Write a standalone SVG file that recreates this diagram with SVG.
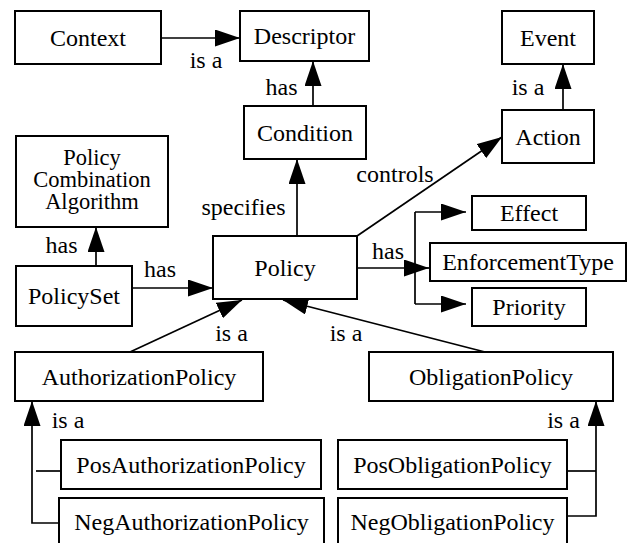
<svg xmlns="http://www.w3.org/2000/svg" width="632" height="543" viewBox="0 0 632 543">
  <style>
    .box { fill: #ffffff; stroke: #000000; stroke-width: 2; }
    .lbl { font-family: "Liberation Serif", serif; font-size: 24px; fill: #000000; text-anchor: middle; }
    .pca { font-size: 22.5px; }
    .edge { fill: none; stroke: #000000; stroke-width: 1.7; }
    .arr { marker-end: url(#head); }
  </style>
  <defs>
    <marker id="head" viewBox="0 0 25 17" refX="25" refY="8.5" markerWidth="25" markerHeight="17" markerUnits="userSpaceOnUse" orient="auto">
      <path d="M0,0 L25,8.5 L0,17 z" fill="#000000"/>
    </marker>
  </defs>
  <rect width="632" height="543" fill="#ffffff"/>

  <!-- connectors with their relation labels -->
  <g id="connectors" font-family="Liberation Serif">
    <line class="edge arr" x1="161" y1="38" x2="240" y2="38"/>
    <text class="lbl" x="206" y="68">is a</text>

    <line class="edge arr" x1="313" y1="106" x2="313" y2="61"/>
    <text class="lbl" x="281.5" y="95">has</text>

    <line class="edge arr" x1="563" y1="110" x2="563" y2="64"/>
    <text class="lbl" x="528" y="95">is a</text>

    <line class="edge arr" x1="357" y1="236" x2="502" y2="137"/>
    <text class="lbl" x="395" y="182">controls</text>

    <line class="edge arr" x1="297" y1="236" x2="297" y2="159"/>
    <text class="lbl" x="243.5" y="215">specifies</text>

    <line class="edge arr" x1="96" y1="266" x2="96" y2="227"/>
    <text class="lbl" x="61.5" y="253">has</text>

    <line class="edge arr" x1="132" y1="288" x2="213" y2="288"/>
    <text class="lbl" x="160" y="277">has</text>

    <!-- Policy attributes: one trunk forking to three targets -->
    <path class="edge" d="M357,268 H415 M415,212 V304"/>
    <line class="edge arr" x1="415" y1="212" x2="466" y2="212"/>
    <line class="edge arr" x1="415" y1="268" x2="429" y2="268"/>
    <line class="edge arr" x1="415" y1="304" x2="466" y2="304"/>
    <text class="lbl" x="388" y="259">has</text>

    <line class="edge arr" x1="130" y1="352" x2="242" y2="300"/>
    <text class="lbl" x="231.5" y="341">is a</text>

    <line class="edge arr" x1="485" y1="352" x2="283" y2="300"/>
    <text class="lbl" x="346" y="341">is a</text>

    <path class="edge arr" d="M59,523 H32 V401"/>
    <line class="edge" x1="36" y1="471" x2="61" y2="471"/>
    <text class="lbl" x="68" y="428">is a</text>

    <path class="edge" d="M567,471 H596"/>
    <path class="edge arr" d="M567,516 H596 V401"/>
    <text class="lbl" x="563.5" y="428">is a</text>
  </g>

  <!-- nodes -->
  <g id="nodes" font-family="Liberation Serif">
  <g id="context">
    <rect class="box" x="15" y="11" width="146" height="53"/>
    <text class="lbl" x="88" y="45.5">Context</text>
  </g>
  <g id="descriptor">
    <rect class="box" x="240" y="11" width="129" height="50"/>
    <text class="lbl" x="304.5" y="44">Descriptor</text>
  </g>
  <g id="event">
    <rect class="box" x="502" y="11" width="92" height="53"/>
    <text class="lbl" x="548" y="45.5">Event</text>
  </g>
  <g id="action">
    <rect class="box" x="502" y="110" width="92" height="53"/>
    <text class="lbl" x="548" y="144.5">Action</text>
  </g>
  <g id="condition">
    <rect class="box" x="244" y="106" width="122" height="53"/>
    <text class="lbl" x="305" y="140.5">Condition</text>
  </g>
  <g id="policy-combination-algorithm">
    <rect class="box" x="16" y="136" width="152" height="91"/>
    <text class="lbl pca" x="92" y="165">Policy</text>
    <text class="lbl pca" x="92" y="187">Combination</text>
    <text class="lbl pca" x="92" y="209">Algorithm</text>
  </g>
  <g id="policyset">
    <rect class="box" x="16" y="266" width="116" height="60"/>
    <text class="lbl" x="74" y="304">PolicySet</text>
  </g>
  <g id="policy">
    <rect class="box" x="213" y="236" width="144" height="63"/>
    <text class="lbl" x="285" y="275.5">Policy</text>
  </g>
  <g id="effect">
    <rect class="box" x="472" y="196" width="114" height="34"/>
    <text class="lbl" x="529" y="221">Effect</text>
  </g>
  <g id="enforcementtype">
    <rect class="box" x="430" y="243" width="196" height="38"/>
    <text class="lbl" x="528" y="270">EnforcementType</text>
  </g>
  <g id="priority">
    <rect class="box" x="472" y="288" width="114" height="38"/>
    <text class="lbl" x="529" y="315">Priority</text>
  </g>
  <g id="authorizationpolicy">
    <rect class="box" x="15" y="352" width="248" height="49"/>
    <text class="lbl" x="139" y="384.5">AuthorizationPolicy</text>
  </g>
  <g id="obligationpolicy">
    <rect class="box" x="369" y="352" width="244" height="49"/>
    <text class="lbl" x="491" y="384.5">ObligationPolicy</text>
  </g>
  <g id="posauthorizationpolicy">
    <rect class="box" x="61" y="440" width="260" height="49"/>
    <text class="lbl" x="191" y="472.5">PosAuthorizationPolicy</text>
  </g>
  <g id="negauthorizationpolicy">
    <rect class="box" x="59" y="498" width="265" height="50"/>
    <text class="lbl" x="191.5" y="530">NegAuthorizationPolicy</text>
  </g>
  <g id="posobligationpolicy">
    <rect class="box" x="338" y="440" width="229" height="49"/>
    <text class="lbl" x="452.5" y="472.5">PosObligationPolicy</text>
  </g>
  <g id="negobligationpolicy">
    <rect class="box" x="338" y="498" width="229" height="50"/>
    <text class="lbl" x="452.5" y="530">NegObligationPolicy</text>
  </g>
  </g>
</svg>
